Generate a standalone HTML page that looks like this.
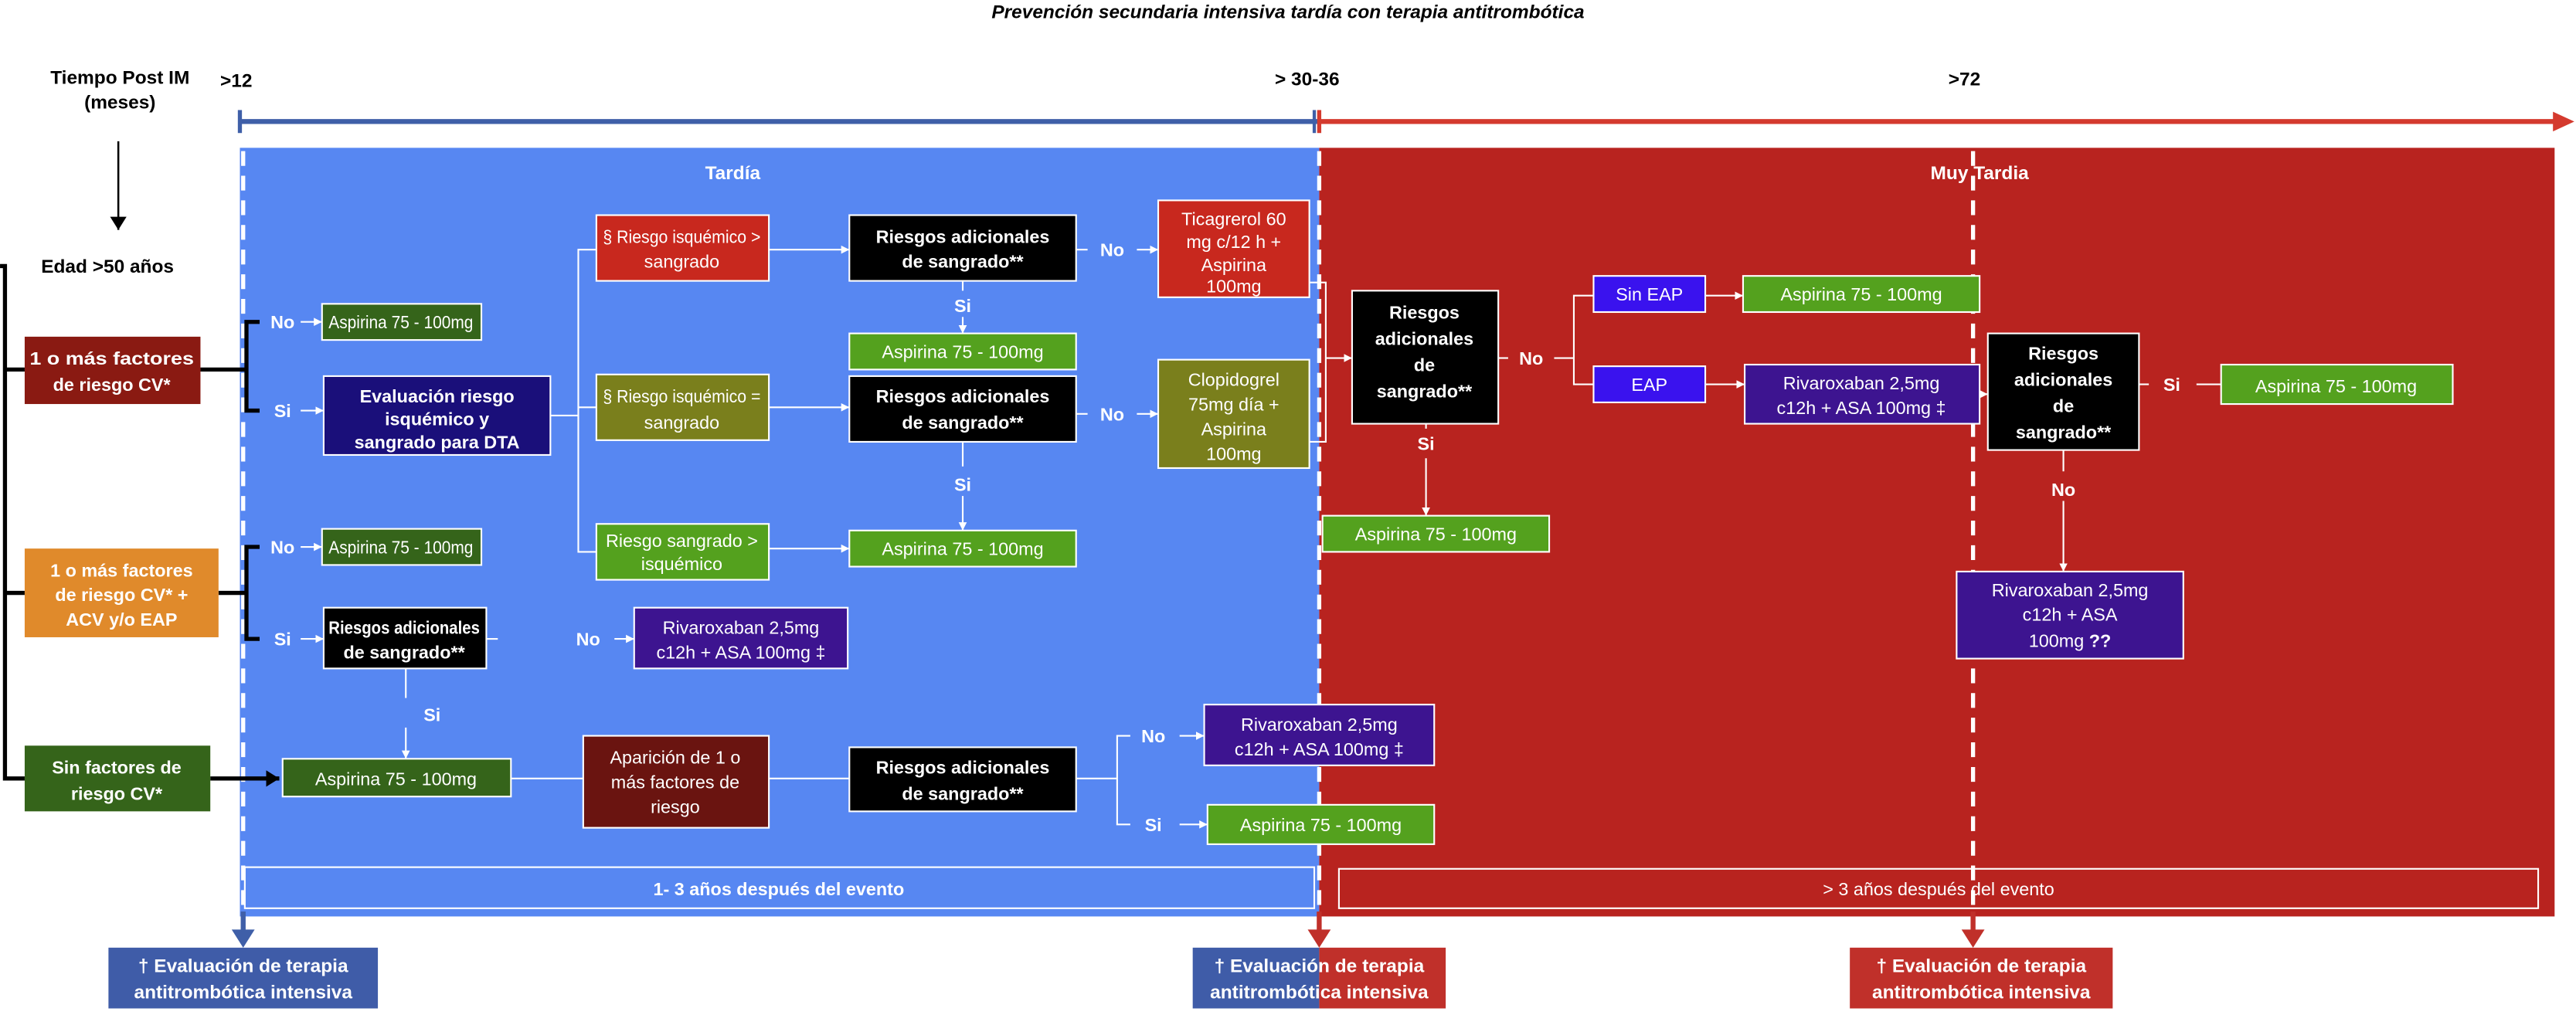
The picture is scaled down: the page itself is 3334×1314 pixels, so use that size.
<!DOCTYPE html>
<html><head><meta charset="utf-8"><style>html,body{margin:0;padding:0;background:#fff}svg{display:block}text{font-family:"Liberation Sans",sans-serif}</style></head><body>
<svg width="3334" height="1314" viewBox="0 0 1568 618" xmlns="http://www.w3.org/2000/svg">
<defs>
<marker id="a" markerWidth="6" markerHeight="6" refX="5" refY="3" orient="auto" markerUnits="userSpaceOnUse"><path d="M0,0.5 L5,3 L0,5.5z" fill="#fff"/></marker>
<marker id="k" markerWidth="10" markerHeight="10" refX="8" refY="5" orient="auto" markerUnits="userSpaceOnUse"><path d="M0,0 L8,5 L0,10z" fill="#000"/></marker>
</defs>
<rect width="1568" height="618" fill="#fff"/>
<text x="784" y="11" font-size="11.5" font-style="italic" font-weight="bold" text-anchor="middle">Prevención secundaria intensiva tardía con terapia antitrombótica</text>
<g font-size="11.5" font-weight="bold">
<text x="73" y="51" text-anchor="middle">Tiempo Post IM</text>
<text x="73" y="66" text-anchor="middle">(meses)</text>
<text x="134" y="53">&gt;12</text>
<text x="776" y="52">&gt; 30-36</text>
<text x="1186" y="52">&gt;72</text>
<text x="25" y="166">Edad &gt;50 años</text>
</g>
<line x1="146" y1="74" x2="803" y2="74" stroke="#3F5FA8" stroke-width="3"/>
<line x1="146" y1="67" x2="146" y2="81" stroke="#3F5FA8" stroke-width="2.5"/>
<line x1="803" y1="74" x2="1556" y2="74" stroke="#D43A2E" stroke-width="3"/>
<path d="M1554,68 L1567,74 L1554,80z" fill="#D43A2E"/>
<line x1="803" y1="67" x2="803" y2="81" stroke="#D43A2E" stroke-width="2.5"/>
<line x1="800" y1="67" x2="800" y2="81" stroke="#3F5FA8" stroke-width="2"/>
<line x1="72" y1="86" x2="72" y2="140" stroke="#000" stroke-width="1.2" marker-end="url(#k)"/>
<rect x="146" y="90" width="657" height="468" fill="#5787F2"/>
<rect x="803" y="90" width="752" height="468" fill="#B8231F"/>
<g stroke="#fff" stroke-width="2.5" stroke-dasharray="9,6">
<line x1="148" y1="92" x2="148" y2="556"/>
<line x1="803" y1="92" x2="803" y2="556"/>
<line x1="1201" y1="92" x2="1201" y2="556"/>
</g>
<g font-size="11.5" font-weight="bold" fill="#fff" text-anchor="middle">
<text x="446" y="109">Tardía</text>
<text x="1205" y="109">Muy Tardia</text>
</g>
<rect x="149" y="528" width="651" height="25" fill="none" stroke="#fff" stroke-width="1"/>
<text x="474" y="545" font-size="11" font-weight="bold" fill="#fff" text-anchor="middle">1- 3 años después del evento</text>
<rect x="815" y="529" width="730" height="24" fill="none" stroke="#fff" stroke-width="1"/>
<text x="1180" y="545" font-size="11" fill="#fff" text-anchor="middle">&gt; 3 años después del evento</text>
<line x1="148" y1="555" x2="148" y2="568" stroke="#3F5FA8" stroke-width="3"/><path d="M141,566 L155,566 L148,577z" fill="#3F5FA8"/>
<line x1="803" y1="555" x2="803" y2="568" stroke="#C0302A" stroke-width="3"/><path d="M796,566 L810,566 L803,577z" fill="#C0302A"/>
<line x1="1201" y1="555" x2="1201" y2="568" stroke="#C0302A" stroke-width="3"/><path d="M1194,566 L1208,566 L1201,577z" fill="#C0302A"/>
<rect x="66" y="577" width="164" height="37" fill="#3F5CA8"/>
<rect x="726" y="577" width="77" height="37" fill="#3F5CA8"/>
<rect x="803" y="577" width="77" height="37" fill="#C0302A"/>
<rect x="1126" y="577" width="160" height="37" fill="#C0302A"/>
<g font-size="11.5" font-weight="bold" fill="#fff" text-anchor="middle">
<text x="148" y="592">† Evaluación de terapia</text><text x="148" y="608">antitrombótica intensiva</text>
<text x="803" y="592">† Evaluación de terapia</text><text x="803" y="608">antitrombótica intensiva</text>
<text x="1206" y="592">† Evaluación de terapia</text><text x="1206" y="608">antitrombótica intensiva</text>
</g>
<g stroke="#000" stroke-width="2.5" fill="none">
<path d="M0,162 L3,162 L3,474 L15,474"/>
<line x1="3" y1="225" x2="15" y2="225"/>
<line x1="3" y1="361" x2="15" y2="361"/>
<line x1="122" y1="225" x2="150" y2="225"/>
<path d="M158,196 L150,196 L150,250 L158,250"/>
<line x1="133" y1="361" x2="150" y2="361"/>
<path d="M158,333 L150,333 L150,389 L158,389"/>
</g>
<line x1="128" y1="474" x2="170" y2="474" stroke="#000" stroke-width="2.5" marker-end="url(#k)"/>
<g stroke="#fff" stroke-width="1" fill="none">
<line x1="183" y1="196" x2="196" y2="196" marker-end="url(#a)"/>
<line x1="183" y1="250" x2="197" y2="250" marker-end="url(#a)"/>
<line x1="335" y1="253" x2="352" y2="253"/>
<path d="M363,152 L352,152 L352,336 L363,336"/>
<line x1="352" y1="248" x2="363" y2="248"/>
<line x1="468" y1="152" x2="517" y2="152" marker-end="url(#a)"/>
<line x1="468" y1="248" x2="517" y2="248" marker-end="url(#a)"/>
<line x1="468" y1="334" x2="517" y2="334" marker-end="url(#a)"/>
<line x1="655" y1="152" x2="662" y2="152"/><line x1="692" y1="152" x2="705" y2="152" marker-end="url(#a)"/>
<line x1="655" y1="252" x2="662" y2="252"/><line x1="692" y1="252" x2="705" y2="252" marker-end="url(#a)"/>
<line x1="586" y1="171" x2="586" y2="177"/><line x1="586" y1="193" x2="586" y2="203" marker-end="url(#a)"/>
<line x1="586" y1="269" x2="586" y2="284"/><line x1="586" y1="302" x2="586" y2="323" marker-end="url(#a)"/>
<line x1="183" y1="333" x2="196" y2="333" marker-end="url(#a)"/>
<line x1="183" y1="389" x2="197" y2="389" marker-end="url(#a)"/>
<line x1="296" y1="389" x2="303" y2="389"/><line x1="374" y1="389" x2="386" y2="389" marker-end="url(#a)"/>
<line x1="247" y1="407" x2="247" y2="425"/><line x1="247" y1="443" x2="247" y2="462" marker-end="url(#a)"/>
<line x1="311" y1="474" x2="355" y2="474"/>
<line x1="468" y1="474" x2="517" y2="474"/>
<path d="M655,474 L680,474"/>
<path d="M688,448 L680,448 L680,502 L688,502"/>
<line x1="718" y1="448" x2="733" y2="448" marker-end="url(#a)"/>
<line x1="718" y1="502" x2="735" y2="502" marker-end="url(#a)"/>
<path d="M797,172 L807,172 L807,269 L797,269"/>
<line x1="807" y1="218" x2="823" y2="218" marker-end="url(#a)"/>
<line x1="912" y1="218" x2="918" y2="218"/><line x1="946" y1="218" x2="958" y2="218"/>
<path d="M970,180 L958,180 L958,234 L970,234"/>
<line x1="1038" y1="180" x2="1061" y2="180" marker-end="url(#a)"/>
<line x1="1038" y1="234" x2="1062" y2="234" marker-end="url(#a)"/>
<line x1="1205" y1="240" x2="1210" y2="240" marker-end="url(#a)"/>
<line x1="868" y1="258" x2="868" y2="261"/><line x1="868" y1="279" x2="868" y2="314" marker-end="url(#a)"/>
<line x1="1302" y1="234" x2="1308" y2="234"/><line x1="1337" y1="234" x2="1352" y2="234"/>
<line x1="1256" y1="274" x2="1256" y2="287"/><line x1="1256" y1="305" x2="1256" y2="348" marker-end="url(#a)"/>
</g>
<g font-size="11" font-weight="bold" fill="#fff" text-anchor="middle">
<text x="172" y="200">No</text><text x="172" y="254">Si</text>
<text x="677" y="156">No</text><text x="677" y="256">No</text>
<text x="586" y="190">Si</text><text x="586" y="299">Si</text>
<text x="172" y="337">No</text><text x="172" y="393">Si</text>
<text x="358" y="393">No</text><text x="263" y="439">Si</text>
<text x="702" y="452">No</text><text x="702" y="506">Si</text>
<text x="932" y="222">No</text><text x="868" y="274">Si</text>
<text x="1322" y="238">Si</text><text x="1256" y="302">No</text>
</g>
<g stroke="#fff" stroke-width="1">
<rect x="196" y="185" width="97" height="22" fill="#35641A"/>
<rect x="197" y="229" width="138" height="48" fill="#1A0F7A"/>
<rect x="363" y="131" width="105" height="40" fill="#C8281E"/>
<rect x="517" y="131" width="138" height="40" fill="#000"/>
<rect x="705" y="122" width="92" height="59" fill="#C8281E"/>
<rect x="517" y="203" width="138" height="22" fill="#54A11E"/>
<rect x="363" y="228" width="105" height="40" fill="#7A7F1C"/>
<rect x="517" y="229" width="138" height="40" fill="#000"/>
<rect x="705" y="219" width="92" height="66" fill="#7A7F1C"/>
<rect x="363" y="319" width="105" height="34" fill="#54A11E"/>
<rect x="517" y="323" width="138" height="22" fill="#54A11E"/>
<rect x="196" y="322" width="97" height="22" fill="#35641A"/>
<rect x="197" y="370" width="99" height="37" fill="#000"/>
<rect x="386" y="370" width="130" height="37" fill="#3D1490"/>
<rect x="172" y="462" width="139" height="23" fill="#35641A"/>
<rect x="355" y="448" width="113" height="56" fill="#6A1410"/>
<rect x="517" y="455" width="138" height="39" fill="#000"/>
<rect x="733" y="429" width="140" height="37" fill="#3D1490"/>
<rect x="735" y="490" width="138" height="24" fill="#54A11E"/>
<rect x="823" y="177" width="89" height="81" fill="#000"/>
<rect x="970" y="168" width="68" height="22" fill="#3A12EE"/>
<rect x="1061" y="168" width="144" height="22" fill="#54A11E"/>
<rect x="970" y="223" width="68" height="22" fill="#3A12EE"/>
<rect x="1062" y="222" width="143" height="36" fill="#3D1490"/>
<rect x="805" y="314" width="138" height="22" fill="#54A11E"/>
<rect x="1210" y="203" width="92" height="71" fill="#000"/>
<rect x="1352" y="222" width="141" height="24" fill="#54A11E"/>
<rect x="1191" y="348" width="138" height="53" fill="#3D1490"/>
</g>
<g stroke="none">
<rect x="15" y="205" width="107" height="41" fill="#8A1A12"/>
<rect x="15" y="334" width="118" height="54" fill="#E08A2B"/>
<rect x="15" y="454" width="113" height="40" fill="#35641A"/>
</g>
<g font-size="11" fill="#fff" text-anchor="middle">
<text x="244" y="200" textLength="88" lengthAdjust="spacingAndGlyphs">Aspirina 75 - 100mg</text>
<text x="415" y="148" textLength="96" lengthAdjust="spacingAndGlyphs">§ Riesgo isquémico &gt;</text><text x="415" y="163">sangrado</text>
<text x="751" y="137">Ticagrerol 60</text><text x="751" y="151">mg c/12 h +</text><text x="751" y="165">Aspirina</text><text x="751" y="178">100mg</text>
<text x="586" y="218">Aspirina 75 - 100mg</text>
<text x="415" y="245" textLength="96" lengthAdjust="spacingAndGlyphs">§ Riesgo isquémico =</text><text x="415" y="261">sangrado</text>
<text x="751" y="235">Clopidogrel</text><text x="751" y="250">75mg día +</text><text x="751" y="265">Aspirina</text><text x="751" y="280">100mg</text>
<text x="415" y="333">Riesgo sangrado &gt;</text><text x="415" y="347">isquémico</text>
<text x="586" y="338">Aspirina 75 - 100mg</text>
<text x="244" y="337" textLength="88" lengthAdjust="spacingAndGlyphs">Aspirina 75 - 100mg</text>
<text x="451" y="386">Rivaroxaban 2,5mg</text><text x="451" y="401">c12h + ASA 100mg ‡</text>
<text x="241" y="478">Aspirina 75 - 100mg</text>
<text x="411" y="465">Aparición de 1 o</text><text x="411" y="480">más factores de</text><text x="411" y="495">riesgo</text>
<text x="803" y="445">Rivaroxaban 2,5mg</text><text x="803" y="460">c12h + ASA 100mg ‡</text>
<text x="804" y="506">Aspirina 75 - 100mg</text>
<text x="1004" y="183">Sin EAP</text>
<text x="1133" y="183">Aspirina 75 - 100mg</text>
<text x="1004" y="238">EAP</text>
<text x="1133" y="237">Rivaroxaban 2,5mg</text><text x="1133" y="252">c12h + ASA 100mg ‡</text>
<text x="874" y="329">Aspirina 75 - 100mg</text>
<text x="1422" y="239">Aspirina 75 - 100mg</text>
<text x="1260" y="363">Rivaroxaban 2,5mg</text><text x="1260" y="378">c12h + ASA</text><text x="1260" y="394">100mg <tspan font-weight="bold">??</tspan></text>
</g>
<g font-size="11" font-weight="bold" fill="#fff" text-anchor="middle">
<text x="266" y="245">Evaluación riesgo</text><text x="266" y="259">isquémico y</text><text x="266" y="273">sangrado para DTA</text>
<text x="586" y="148">Riesgos adicionales</text><text x="586" y="163">de sangrado**</text>
<text x="586" y="245">Riesgos adicionales</text><text x="586" y="261">de sangrado**</text>
<text x="246" y="386" textLength="92" lengthAdjust="spacingAndGlyphs">Riesgos adicionales</text><text x="246" y="401">de sangrado**</text>
<text x="586" y="471">Riesgos adicionales</text><text x="586" y="487">de sangrado**</text>
<text x="867" y="194">Riesgos</text><text x="867" y="210">adicionales</text><text x="867" y="226">de</text><text x="867" y="242">sangrado**</text>
<text x="1256" y="219">Riesgos</text><text x="1256" y="235">adicionales</text><text x="1256" y="251">de</text><text x="1256" y="267">sangrado**</text>
<text x="68" y="222" textLength="100" lengthAdjust="spacingAndGlyphs">1 o más factores</text><text x="68" y="238">de riesgo CV*</text>
<text x="74" y="351">1 o más factores</text><text x="74" y="366">de riesgo CV* +</text><text x="74" y="381">ACV  y/o EAP</text>
<text x="71" y="471">Sin factores de</text><text x="71" y="487">riesgo CV*</text>
</g>
</svg>
</body></html>
